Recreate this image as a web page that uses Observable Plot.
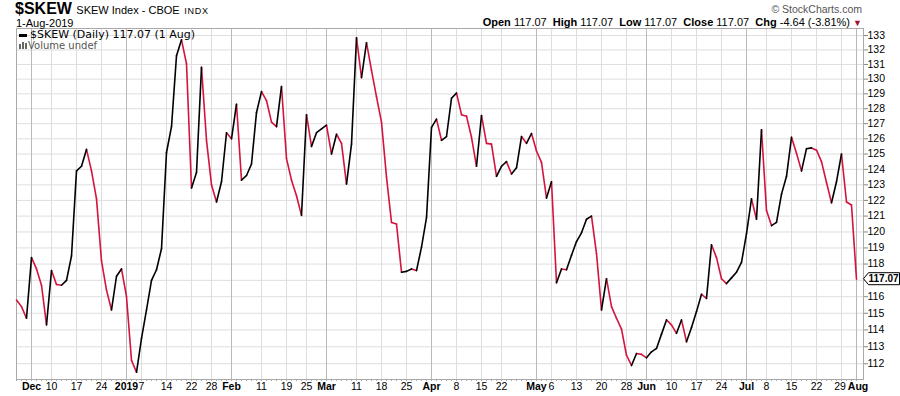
<!DOCTYPE html>
<html><head><meta charset="utf-8">
<script src="https://cdn.jsdelivr.net/npm/d3@7"></script>
<script src="https://cdn.jsdelivr.net/npm/@observablehq/plot@0.6"></script>
<style>
body{margin:0;background:#fff;font-family:"Liberation Sans",Arial,sans-serif;}
#wrap{position:relative;width:900px;height:396px;overflow:hidden;background:#fff}
.hdr{position:absolute;white-space:nowrap;color:#000;line-height:1;}
.dv{font-family:"DejaVu Sans",Verdana,sans-serif;}
</style></head><body>
<div id="wrap">
<div id="chart"></div>
<div class="hdr" style="left:15px;top:1px;"><b style="font-size:16px">$SKEW</b> <span style="font-size:11px">SKEW Index - CBOE</span> <span style="font-size:9px;letter-spacing:0.8px">INDX</span></div>
<div class="hdr" style="left:16px;top:18px;font-size:11px">1-Aug-2019</div>
<div class="hdr" style="right:38px;top:4px;font-size:10.5px;color:#555">&#169; StockCharts.com</div>
<div class="hdr" style="right:38px;top:17px;font-size:11px"><b>Open</b> 117.07&nbsp; <b>High</b> 117.07&nbsp; <b>Low</b> 117.07&nbsp; <b>Close</b> 117.07&nbsp; <b>Chg</b> -4.64 (-3.81%) <span style="color:#a0102e;font-size:9px">&#9660;</span></div>
<div class="hdr dv" style="left:19px;top:29px;font-size:11px;line-height:11px"><span style="display:inline-block;width:8px;height:3px;background:#000;vertical-align:middle;margin-right:3px"></span>$SKEW (Daily) 117.07 (1 Aug)</div>
<div class="hdr dv" style="left:19px;top:41px;font-size:10px;line-height:10px;color:#555"><span style="display:inline-block;width:2px;height:5px;background:#666;margin-right:1px"></span><span style="display:inline-block;width:2px;height:7px;background:#666;margin-right:1px"></span><span style="display:inline-block;width:2px;height:6px;background:#666;margin-right:1px"></span>Volume undef</div>
</div>
<script>
// Daily closes of $SKEW, trading days 28-Nov-2018 .. 1-Aug-2019 (index 0..168)
const values = [
115.8,115.4,114.7,118.4,117.7,116.7,114.3,117.6,116.75,116.7,
117.0,118.5,123.9,124.2,125.3,123.9,122.1,118.2,116.4,115.2,
117.25,117.7,116.0,112.2,111.5,113.5,115.2,117.0,117.65,118.95,
125.1,126.8,131.6,132.7,131.05,122.8,123.8,130.8,125.9,123.0,
121.9,123.2,126.4,126.0,128.3,123.3,123.6,124.35,127.75,129.15,
128.55,127.1,126.8,129.5,124.7,123.3,122.3,121.05,127.6,125.5,
126.4,126.65,126.9,125.0,126.3,125.7,123.05,125.65,132.85,130.1,
132.5,130.6,128.8,127.1,123.5,120.6,120.5,117.5,117.55,117.7,
117.6,119.05,120.9,126.75,127.3,125.9,126.15,128.7,129.05,127.6,
127.5,126.1,124.2,127.55,125.7,125.65,123.55,124.2,124.5,123.7,
124.1,126.15,125.7,126.35,125.2,124.45,122.15,123.2,116.85,117.7,
117.65,118.55,119.4,119.95,120.8,121.0,118.65,115.2,117.1,115.4,
114.7,114.05,112.5,111.9,112.6,112.55,112.35,112.7,112.9,113.75,
114.6,114.3,113.8,114.6,113.3,114.15,115.1,116.15,115.9,119.2,
118.4,117.1,116.8,117.15,117.5,118.1,119.9,122.1,120.8,126.6,
121.35,120.4,120.6,122.4,123.55,126.1,125.05,123.9,125.35,125.4,
125.25,124.5,123.15,121.85,123.2,125.0,121.9,121.71,117.07
];
// x-axis ticks: trading-day index and label
const tickIdx = [3,7,12,17,22,25,30,35,39,43,49,54,58,62,68,73,78,83,88,93,97,104,107,112,117,122,126,131,136,141,146,150,155,160,165,168];
const tickLabels = ["Dec","10","17","24","2019","7","14","22","28","Feb","11","19","25","Mar","11","18","25","Apr","8","15","22","May","6","13","20","28","Jun","10","17","24","Jul","8","15","22","29","Aug"];
const majorLabels = ["Dec","2019","Feb","Mar","Apr","May","Jun","Jul","Aug"];
const yTicks = [112,113,114,115,116,117,118,119,120,121,122,123,124,125,126,127,128,129,130,131,132,133];
const lastValue = 117.07;

const labelOf = new Map(tickIdx.map((t,k)=>[t, tickLabels[k]]));
const majorIdx = tickIdx.filter(t => majorLabels.includes(labelOf.get(t)));
const minorIdx = tickIdx.filter(t => !majorLabels.includes(labelOf.get(t)));
const lastTick = tickIdx[tickIdx.length - 1];
const lastMinor = minorIdx[minorIdx.length - 1];
const dayIdx = values.map((v,i)=>i);
const segs = values.slice(1).map((v,k)=>({i0:k, v0:values[k], i1:k+1, v1:v, up: v >= values[k]}));
const upSegs = segs.filter(d=>d.up), downSegs = segs.filter(d=>!d.up);
const yLabelTicks = yTicks.filter(t => Math.abs(t - lastValue) > 0.5);

const chart = Plot.plot({
  width: 900, height: 396,
  marginLeft: 16, marginRight: 37, marginTop: 28, marginBottom: 17,
  x: {type: "linear", domain: [0, 169.4], label: null},
  y: {type: "log", domain: [111.08, 133.49], label: null},
  style: {fontFamily: '"Liberation Sans", Arial, sans-serif', fontSize: "10.5px", background: "transparent", color: "#000", overflow: "visible"},
  marks: [
    Plot.ruleY(yTicks, {stroke: "#dedede", strokeOpacity: 1}),
    Plot.ruleX(minorIdx, {stroke: "#dedede", strokeOpacity: 1}),
    Plot.ruleX(majorIdx, {stroke: "#b9b9b9", strokeOpacity: 1}),
    Plot.frame({stroke: "#a9a9a9"}),
    Plot.axisX({ticks: dayIdx, tickSize: 2, tickFormat: () => "", stroke: "#aaa", label: null}),
    Plot.axisX({ticks: minorIdx.filter(t => t !== lastMinor), tickSize: 0, tickPadding: 3, fontSize: 10.5, tickFormat: t => labelOf.get(t), label: null}),
    Plot.axisX({ticks: [lastMinor], tickSize: 0, tickPadding: 3, dx: -1.5, fontSize: 10.5, tickFormat: t => labelOf.get(t), label: null}),
    Plot.axisX({ticks: majorIdx.filter(t => t !== lastTick), tickSize: 0, tickPadding: 3, fontSize: 10.5, tickFormat: t => labelOf.get(t), fontWeight: "bold", label: null}),
    Plot.axisX({ticks: [lastTick], tickSize: 0, tickPadding: 3, dx: 1.5, fontSize: 10.5, tickFormat: t => labelOf.get(t), fontWeight: "bold", label: null}),
    Plot.axisY({anchor: "right", ticks: yTicks, tickSize: 4, tickFormat: () => "", stroke: "#888", label: null}),
    Plot.axisY({anchor: "right", ticks: yLabelTicks, tickSize: 0, tickPadding: 4, fontSize: 10.5, tickFormat: d => String(d), label: null}),
    Plot.link(downSegs, {x1: "i0", y1: "v0", x2: "i1", y2: "v1", stroke: "#d4143c", strokeWidth: 1.6, strokeLinecap: "round"}),
    Plot.link(upSegs, {x1: "i0", y1: "v0", x2: "i1", y2: "v1", stroke: "#000", strokeWidth: 1.6, strokeLinecap: "round"})
  ]
});
document.getElementById("chart").appendChild(chart);

// current value marker on the right axis
const yy = chart.scale("y").apply(lastValue);
const svg = d3.select(chart);
const g = svg.append("g");
g.append("path")
  .attr("d", `M863.5,${yy} L868.5,${yy-6} L899.5,${yy-6} L899.5,${yy+6} L868.5,${yy+6} Z`)
  .style("fill", "#fff").style("stroke", "#000").style("stroke-width", "1");
g.append("text").attr("x", 868.5).attr("y", yy).attr("dy", "0.36em")
  .style("text-anchor", "start").style("font-weight", "bold").style("font-size", "10px")
  .style("fill", "#000").text(lastValue.toFixed(2));
</script>
</body></html>
